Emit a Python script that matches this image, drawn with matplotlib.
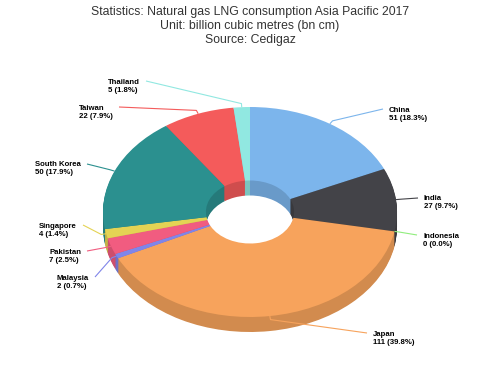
import matplotlib
matplotlib.use('Agg')
import numpy as np
import matplotlib.pyplot as plt
from matplotlib.colors import to_rgb

countries = ['China', 'India', 'Indonesia', 'Japan', 'Malaysia', 'Pakistan',
             'Singapore', 'South Korea', 'Taiwan', 'Thailand']
values = [51, 27, 0, 111, 2, 7, 4, 50, 22, 5]
colors = ['#7cb5ec', '#434348', '#90ed7d', '#f7a35c', '#8085e9', '#f15c80',
          '#e4d354', '#2b908f', '#f45b5b', '#91e8e1']
title_lines = ['Statistics: Natural gas LNG consumption Asia Pacific 2017',
               'Unit: billion cubic metres (bn cm)',
               'Source: Cedigaz']

# layout (pixels): where each label connector ends
label_anchor = {
    'China': (383, 109), 'India': (418, 198), 'Indonesia': (417, 235),
    'Japan': (367, 333), 'Malaysia': (95, 277), 'Pakistan': (87, 251),
    'Singapore': (83, 225), 'South Korea': (87, 164), 'Taiwan': (119, 107),
    'Thailand': (146, 81),
}

W, H = 500, 375
CX, CY = 250, 212      # pie centre in pixels
RX, RY = 147, 105      # ellipse radii in pixels
DEPTH = 15
HOLE = 0.30
ys = RY / RX


def py(y):
    return (H - y) / ys


def darker(c, f=0.85):
    return tuple(v * f for v in to_rgb(c))


fig = plt.figure(figsize=(5, 3.75), dpi=100)
ax = fig.add_axes([0, 0, 1, 1])

# side walls: the same ring stacked downwards in a darker shade
side_colors = [darker(c) for c in colors]
for d in range(DEPTH, 0, -1):
    ax.pie(values, colors=side_colors, startangle=90, counterclock=False,
           radius=RX, center=(CX, py(CY + d)),
           wedgeprops=dict(width=RX * (1 - HOLE), linewidth=0))
ax.pie(values, colors=colors, startangle=90, counterclock=False,
       radius=RX, center=(CX, py(CY)),
       wedgeprops=dict(width=RX * (1 - HOLE), linewidth=0))

ax.set_aspect('auto')
ax.set_xlim(0, W)
ax.set_ylim(0, H / ys)
ax.axis('off')

total = sum(values)
cum = np.cumsum([0] + values)
for i, name in enumerate(countries):
    mid = np.deg2rad((cum[i] + values[i] / 2) / total * 360)
    ex = CX + RX * np.sin(mid)
    ey = py(CY) + RX * np.cos(mid)
    bx = CX + (RX + 5) * np.sin(mid)
    by = py(CY) + (RX + 5) * np.cos(mid)
    lx, ly = label_anchor[name]
    ax.plot([lx, bx, ex], [py(ly), by, ey], color=colors[i], lw=0.8,
            solid_capstyle='butt')
    pct = values[i] / total * 100
    txt = f'{name}\n{values[i]} ({pct:.1f}%)'
    if lx > CX:
        ax.text(lx + 6, py(ly + 5), txt, ha='left', va='center',
                multialignment='left', fontsize=5.6, fontweight='bold',
                family='Liberation Sans', color='#000000', linespacing=1.2)
    else:
        ax.text(lx - 6, py(ly + 5), txt, ha='right', va='center',
                multialignment='left', fontsize=5.6, fontweight='bold',
                family='Liberation Sans', color='#000000', linespacing=1.2)

for j, line in enumerate(title_lines):
    fig.text(0.5, 1 - (12.5 + 13.5 * j) / H, line, ha='center', va='center',
             fontsize=8.8, family='Liberation Sans', color='#333333')

fig.savefig('out.png', dpi=100)
